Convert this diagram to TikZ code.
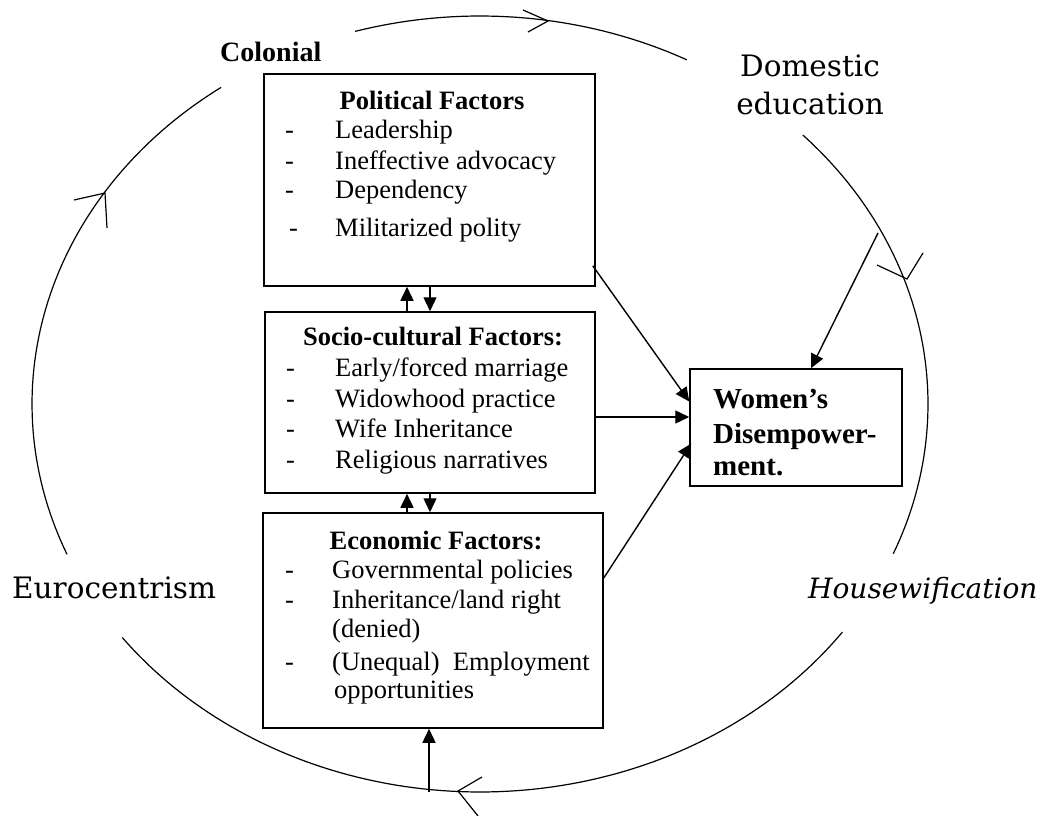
\documentclass[tikz,border=0pt]{standalone}
\usepackage{fontspec}
\setmainfont{Liberation Serif}
\newfontfamily\slabfont{DejaVu Serif}
\usetikzlibrary{arrows.meta,calc}
\begin{document}
\begin{tikzpicture}[x=1pt,y=-1pt,
  box/.style={draw, line width=1.5pt, inner sep=0pt},
  txt/.style={inner sep=0pt, anchor=base west, font=\fontsize{26.5}{30}\selectfont},
  head/.style={inner sep=0pt, anchor=base, font=\fontsize{26.5}{30}\selectfont\bfseries},
  womtxt/.style={inner sep=0pt, anchor=base west, font=\fontsize{29}{34}\selectfont\bfseries},
  slab/.style={inner sep=0pt, font=\fontsize{29.5}{36}\slabfont},
  conn/.style={line width=1.4pt, -{Triangle[length=14pt,width=13pt]}},
  circ/.style={line width=1.2pt},
]
\useasboundingbox (0,0) rectangle (1044,816);

% circle segments
\draw[circ] plot[domain=-106.2:-62.5, samples=50] ({480+448*cos(\x)},{404+388*sin(\x)});
\draw[circ] plot[domain=-43.9:22.7, samples=60] ({480+448*cos(\x)},{404+388*sin(\x)});
\draw[circ] plot[domain=36:143, samples=90] ({480+448*cos(\x)},{404+388*sin(\x)});
\draw[circ] plot[domain=157.2:234.7, samples=70] ({480+448*cos(\x)},{404+388*sin(\x)});
% open arrowheads on the circle
\draw[circ] (523,10) -- (548,21) -- (528,32);
\draw[circ] (877,265) -- (907,279) -- (923,253);
\draw[circ] (482,777) -- (458,791) -- (478,816);
\draw[circ] (74,200) -- (105,193) -- (107,228);

% boxes
\node[box, minimum width=331pt, minimum height=212pt] (pol) at (429.5,180) {};
\node[box, minimum width=330pt, minimum height=181pt] (soc) at (430,402.5) {};
\node[box, minimum width=340pt, minimum height=215pt] (eco) at (433,620.5) {};
\node[box, minimum width=212pt, minimum height=117pt] (wom) at (796,427.5) {};

% political
\node[head] (ph) at (432,109) {Political Factors};
\node[txt] (pd1) at (285,138) {-};
\node[txt] (pt1) at (335,138) {Leadership};
\node[txt] (pd2) at (285,169) {-};
\node[txt] (pt2) at (335,169) {Ineffective advocacy};
\node[txt] (pd3) at (285,198) {-};
\node[txt] (pt3) at (335,198) {Dependency};
\node[txt] (pd4) at (289,236) {-};
\node[txt] (pt4) at (335,236) {Militarized polity};

% socio-cultural
\node[head] (sh) at (433,345) {Socio-cultural Factors:};
\node[txt] (sd1) at (286,376) {-};
\node[txt] (st1) at (335,376) {Early/forced marriage};
\node[txt] (sd2) at (286,407) {-};
\node[txt] (st2) at (335,407) {Widowhood practice};
\node[txt] (sd3) at (286,437) {-};
\node[txt] (st3) at (335,437) {Wife Inheritance};
\node[txt] (sd4) at (286,468) {-};
\node[txt] (st4) at (335,468) {Religious narratives};

% economic
\node[head] (eh) at (436,549) {Economic Factors:};
\node[txt] (ed1) at (285,578) {-};
\node[txt] (et1) at (332,578) {Governmental policies};
\node[txt] (ed2) at (285,608) {-};
\node[txt] (et2) at (332,608) {Inheritance/land right};
\node[txt] (et2b) at (332,637) {(denied)};
\node[txt] (ed3) at (285,670) {-};
\node[txt] (et3) at (332,670) {(Unequal)\ \ Employment};
\node[txt] (et3b) at (334,698) {opportunities};

% women's disempowerment
\node[womtxt] (w1) at (713,408) {Women’s};
\node[womtxt] (w2) at (713,443) {Disempower-};
\node[womtxt] (w3) at (713,475) {ment.};

% outer labels
\node[inner sep=0pt, anchor=base west, font=\fontsize{28}{34}\selectfont\bfseries] (col) at (220,62) {Colonial};
\node[slab, anchor=base] (dom1) at (810,77) {Domestic};
\node[slab, anchor=base] (dom2) at (810,114) {education};
\node[slab, anchor=base west] (euro) at (12,598) {Eurocentrism};
\node[slab, anchor=base west, font=\fontsize{28}{34}\slabfont\itshape] (house) at (808,598) {Housewification};

% connectors
\draw[conn] ($(pol.south east)+(-3,-21)$) -- ($(wom.west)+(0,-26)$);
\draw[conn] ($(soc.east)+(0,14.5)$) -- ($(wom.west)+(0,-10.5)$);
\draw[conn] ($(eco.east)+(0,-42.5)$) -- ($(wom.west)+(2,16)$);
\coordinate (edu) at (878,233);
\draw[conn] (edu) -- ($(wom.north)+(15,0)$);
\coordinate (cb) at (429,792);
\draw[conn] (cb) -- (cb |- eco.south);
% between boxes
\draw[conn] ($(soc.north)+(-23,0)$) -- ($(pol.south)+(-22.5,0)$);
\draw[conn] ($(pol.south)+(0.5,0)$) -- (soc.north);
\draw[conn] ($(eco.north)+(-26,0)$) -- ($(soc.south)+(-23,0)$);
\draw[conn] (soc.south) -- ($(eco.north)+(-3,0)$);
\end{tikzpicture}
\end{document}
